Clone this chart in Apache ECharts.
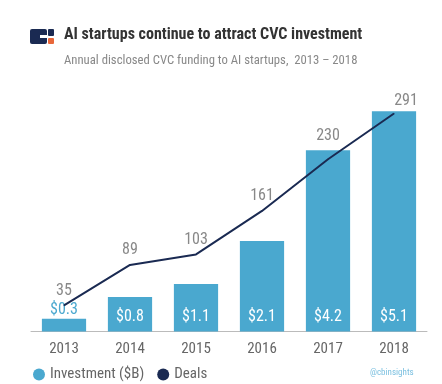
<!DOCTYPE html>
<html><head><meta charset="utf-8">
<script src="https://cdn.jsdelivr.net/npm/echarts@6/dist/echarts.min.js"></script>
<style>html,body{margin:0;padding:0;background:#fff}#c{width:442px;height:384px}</style>
</head><body><div id="c"></div>
<script>
const years = ['2013','2014','2015','2016','2017','2018'];
const investment = [0.3, 0.8, 1.1, 2.1, 4.2, 5.1];
const deals = [35, 89, 103, 161, 230, 291];
const titleText = 'AI startups continue to attract CVC investment';
const subtitleText = 'Annual disclosed CVC funding to AI startups,  2013 \u2013 2018';

const barColor = '#4aa8cf';
const lineColor = '#1a2a52';
const font = '"Roboto Condensed", "Liberation Sans Narrow", Roboto';

const barData = investment.map((v, i) => {
  const d = { value: v };
  if (i === 0) d.label = { position: 'top', distance: 1, color: barColor };
  return d;
});
const lineData = deals.map((v, i) => {
  const d = { value: v };
  if (i === 4) d.label = { offset: [0, -9] };
  if (i === 5) d.label = { offset: [12, 2] };
  return d;
});

const chart = echarts.init(document.getElementById('c'), null, { renderer: 'canvas' });
chart.setOption({
  animation: false,
  backgroundColor: '#fff',
  textStyle: { fontFamily: font },
  title: [
    { text: titleText, left: 64, top: 27, padding: 0, textStyle: { fontSize: 16, fontWeight: 'bold', color: '#333', fontFamily: font } },
    { text: subtitleText, left: 64, top: 54, padding: 0, textStyle: { fontSize: 12.7, fontWeight: 'normal', color: '#888', fontFamily: font } }
  ],
  grid: { left: 31, right: 15, top: 94, bottom: 52.4 },
  legend: {
    left: 33, top: 367, padding: 0, icon: 'circle', itemWidth: 12, itemHeight: 12, itemGap: 13,
    textStyle: { fontSize: 15, color: '#666', fontFamily: font },
    data: [
      { name: 'Investment ($B)', itemStyle: { color: barColor } },
      { name: 'Deals', itemStyle: { color: lineColor } }
    ]
  },
  xAxis: {
    type: 'category', data: years,
    axisLine: { lineStyle: { color: '#bbb', width: 1 } },
    axisTick: { show: false },
    axisLabel: { color: '#666', fontSize: 15, margin: 10, fontFamily: font }
  },
  yAxis: [
    { type: 'value', min: 0, max: 5.5, show: false, splitLine: { show: false } },
    { type: 'value', min: 0, max: 317, show: false, splitLine: { show: false } }
  ],
  series: [
    {
      name: 'Investment ($B)', type: 'bar', data: barData, barCategoryGap: '33%',
      itemStyle: { color: barColor },
      label: { show: true, position: 'insideBottom', distance: 7, color: '#fff', fontSize: 16, fontFamily: font,
        formatter: p => '$' + p.value.toFixed(1) }
    },
    {
      name: 'Deals', type: 'line', yAxisIndex: 1, data: lineData,
      symbol: 'circle', symbolSize: 1, showSymbol: true,
      lineStyle: { color: lineColor, width: 2 }, itemStyle: { color: lineColor },
      label: { show: true, position: 'top', distance: 6, color: '#888', fontSize: 16, fontFamily: font }
    }
  ],
  graphic: [
    { type: 'rect', shape: { x: 30, y: 29, width: 17, height: 15, r: 2 }, style: { fill: lineColor } },
    { type: 'rect', shape: { x: 40, y: 35, width: 7, height: 3 }, style: { fill: '#fff' } },
    { type: 'rect', shape: { x: 48, y: 29, width: 6, height: 7, r: 1 }, style: { fill: lineColor } },
    { type: 'rect', shape: { x: 48, y: 38, width: 6, height: 6, r: 1 }, style: { fill: '#e8673a' } },
    { type: 'text', left: 370, top: 368, style: { text: '@cbinsights', fontSize: 9, fill: '#7cc0e0', fontFamily: font } }
  ]
});
</script></body></html>
